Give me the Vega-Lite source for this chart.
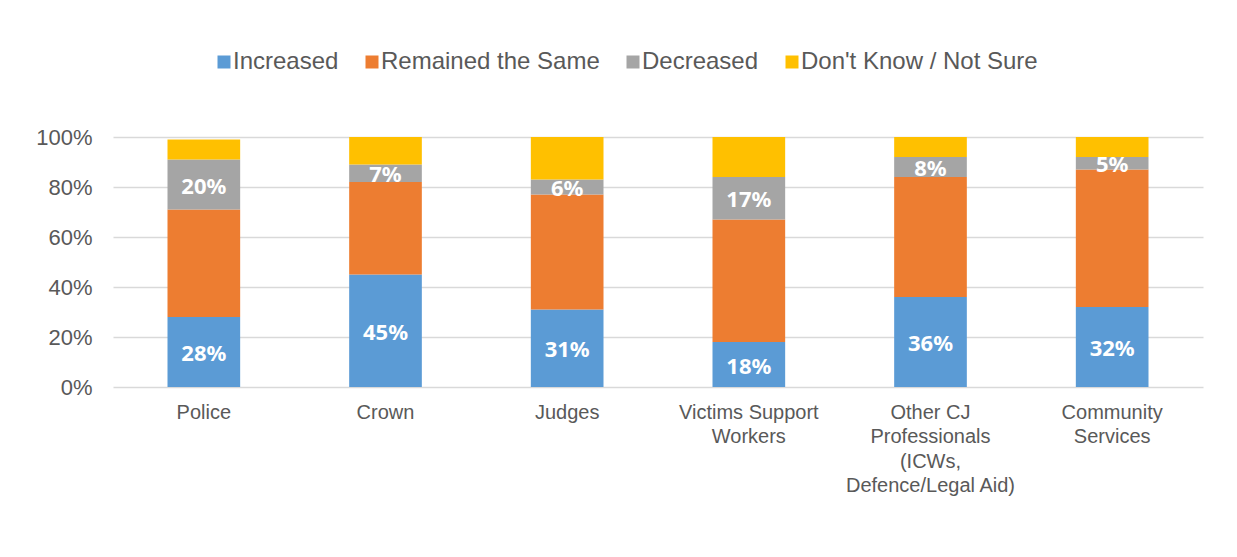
{
  "$schema": "https://vega.github.io/schema/vega-lite/v6.json",
  "width": 1090,
  "height": 250,
  "autosize": {"type": "none"},
  "padding": {"left": 113, "top": 137, "right": 34, "bottom": 170},
  "background": "white",
  "data": {
    "values": [
      {"cat": "Police", "resp": "Increased", "k": 1, "value": 28},
      {"cat": "Police", "resp": "Remained the Same", "k": 2, "value": 43},
      {"cat": "Police", "resp": "Decreased", "k": 3, "value": 20},
      {"cat": "Police", "resp": "Don't Know / Not Sure", "k": 4, "value": 8},
      {"cat": "Crown", "resp": "Increased", "k": 1, "value": 45},
      {"cat": "Crown", "resp": "Remained the Same", "k": 2, "value": 37},
      {"cat": "Crown", "resp": "Decreased", "k": 3, "value": 7},
      {"cat": "Crown", "resp": "Don't Know / Not Sure", "k": 4, "value": 11},
      {"cat": "Judges", "resp": "Increased", "k": 1, "value": 31},
      {"cat": "Judges", "resp": "Remained the Same", "k": 2, "value": 46},
      {"cat": "Judges", "resp": "Decreased", "k": 3, "value": 6},
      {"cat": "Judges", "resp": "Don't Know / Not Sure", "k": 4, "value": 17},
      {"cat": "Victims Support\nWorkers", "resp": "Increased", "k": 1, "value": 18},
      {"cat": "Victims Support\nWorkers", "resp": "Remained the Same", "k": 2, "value": 49},
      {"cat": "Victims Support\nWorkers", "resp": "Decreased", "k": 3, "value": 17},
      {"cat": "Victims Support\nWorkers", "resp": "Don't Know / Not Sure", "k": 4, "value": 16},
      {"cat": "Other CJ\nProfessionals\n(ICWs,\nDefence/Legal Aid)", "resp": "Increased", "k": 1, "value": 36},
      {"cat": "Other CJ\nProfessionals\n(ICWs,\nDefence/Legal Aid)", "resp": "Remained the Same", "k": 2, "value": 48},
      {"cat": "Other CJ\nProfessionals\n(ICWs,\nDefence/Legal Aid)", "resp": "Decreased", "k": 3, "value": 8},
      {"cat": "Other CJ\nProfessionals\n(ICWs,\nDefence/Legal Aid)", "resp": "Don't Know / Not Sure", "k": 4, "value": 8},
      {"cat": "Community\nServices", "resp": "Increased", "k": 1, "value": 32},
      {"cat": "Community\nServices", "resp": "Remained the Same", "k": 2, "value": 55},
      {"cat": "Community\nServices", "resp": "Decreased", "k": 3, "value": 5},
      {"cat": "Community\nServices", "resp": "Don't Know / Not Sure", "k": 4, "value": 8}
    ]
  },
  "transform": [
    {"stack": "value", "groupby": ["cat"], "sort": [{"field": "k"}], "as": ["v0", "v1"]},
    {"calculate": "(datum.v0 + datum.v1) / 2", "as": "mid"},
    {"calculate": "datum.value + '%'", "as": "label"}
  ],
  "encoding": {
    "x": {
      "field": "cat",
      "type": "nominal",
      "sort": null,
      "title": null,
      "scale": {"paddingInner": 0.6, "paddingOuter": 0.3},
      "axis": {
        "labelAngle": 0,
        "labelExpr": "split(datum.label, '\\n')",
        "labelFont": "Liberation Sans",
        "labelFontSize": 20,
        "labelColor": "#595959",
        "labelLineHeight": 24.5,
        "labelPadding": 15,
        "ticks": false,
        "domain": false,
        "grid": false
      }
    }
  },
  "layer": [
    {
      "mark": {"type": "bar"},
      "encoding": {
        "y": {
          "field": "v0",
          "type": "quantitative",
          "scale": {"domain": [0, 100], "nice": false},
          "title": null,
          "axis": {
            "values": [0, 20, 40, 60, 80, 100],
            "labelExpr": "datum.value + '%'",
            "labelFont": "Liberation Sans",
            "labelFontSize": 22,
            "labelColor": "#595959",
            "labelPadding": 21,
            "ticks": false,
            "domain": false,
            "gridColor": "#d9d9d9",
            "gridWidth": 1.5
          }
        },
        "y2": {"field": "v1"},
        "color": {
          "field": "resp",
          "type": "nominal",
          "title": null,
          "scale": {
            "domain": ["Increased", "Remained the Same", "Decreased", "Don't Know / Not Sure"],
            "range": ["#5B9BD5", "#ED7D31", "#A5A5A5", "#FFC000"]
          },
          "legend": {
            "orient": "none",
            "direction": "horizontal",
            "legendX": 99,
            "legendY": -87,
            "symbolType": "square",
            "symbolSize": 169,
            "symbolStrokeWidth": 0,
            "labelFont": "Liberation Sans",
            "labelFontSize": 24,
            "labelColor": "#595959",
            "labelOffset": -3,
            "columnPadding": 21,
            "labelLimit": 400
          }
        }
      }
    },
    {
      "transform": [{"filter": "datum.resp == 'Increased' || datum.resp == 'Decreased'"}],
      "mark": {
        "type": "text",
        "color": "white",
        "font": "Noto Sans",
        "fontWeight": "bold",
        "fontSize": 22,
        "baseline": "middle",
        "align": "center",
        "dy": 2
      },
      "encoding": {
        "y": {"field": "mid", "type": "quantitative"},
        "text": {"field": "label", "type": "nominal"},
        "detail": {"field": "resp"}
      }
    }
  ],
  "config": {
    "view": {"stroke": null}
  }
}
